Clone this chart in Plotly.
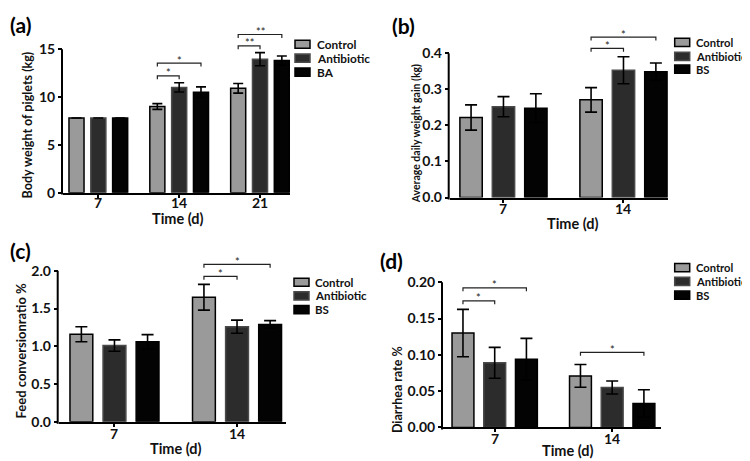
import plotly.graph_objects as go

W, H = 750, 461

# ---------------- data ----------------
series_a = ["Control", "Antibiotic", "BA"]
series_bcd = ["Control", "Antibiotic", "BS"]
days_a = ["7", "14", "21"]
days_bcd = ["7", "14"]

# (a) body weight of piglets (kg)
bw_control = [7.8, 9.0, 10.9]
bw_control_err = [0.0, 0.3, 0.5]
bw_antibiotic = [7.8, 11.0, 13.95]
bw_antibiotic_err = [0.0, 0.48, 0.68]
bw_ba = [7.8, 10.5, 13.8]
bw_ba_err = [0.0, 0.55, 0.48]

# (b) average daily weight gain (kg)
adg_control = [0.222, 0.271]
adg_control_err = [0.035, 0.034]
adg_antibiotic = [0.252, 0.353]
adg_antibiotic_err = [0.028, 0.0375]
adg_bs = [0.248, 0.349]
adg_bs_err = [0.04, 0.024]

# (c) feed conversion ratio %
fcr_control = [1.16, 1.65]
fcr_control_err = [0.10, 0.17]
fcr_antibiotic = [1.01, 1.26]
fcr_antibiotic_err = [0.075, 0.087]
fcr_bs = [1.06, 1.29]
fcr_bs_err = [0.095, 0.05]

# (d) diarrhea rate %
dr_control = [0.130, 0.071]
dr_control_err = [0.0326, 0.0157]
dr_antibiotic = [0.089, 0.055]
dr_antibiotic_err = [0.0213, 0.009]
dr_bs = [0.094, 0.033]
dr_bs_err = [0.0287, 0.0189]

# significance: (group index, from series, to series, label, bracket level)
sig_a = [(1, 0, 1, "*", 12.2), (1, 0, 2, "*", 13.54), (2, 0, 1, "**", 15.34), (2, 0, 2, "**", 16.53)]
sig_b = [(1, 0, 1, "*", 0.414), (1, 0, 2, "*", 0.445)]
sig_c = [(1, 0, 1, "*", 1.926), (1, 0, 2, "*", 2.085)]
sig_d = [(0, 0, 1, "*", 0.1744), (0, 0, 2, "*", 0.1923), (1, 0, 2, "*", 0.1034)]

# ---------------- styles ----------------
FONT = "Lato"
fills = ["#9a9a9a", "#2c2c2c", "#030303"]
edges = ["#000000", "#4a4a4a", "#000000"]
BARGAP = 0.19
slot = (1 - BARGAP) / 3
offsets = [-slot, 0, slot]

panels = [
    dict(key="a", days=days_a, names=series_a,
         means=[bw_control, bw_antibiotic, bw_ba],
         errs=[bw_control_err, bw_antibiotic_err, bw_ba_err],
         sig=sig_a, xpx=(55, 282), zero=186.7, ppu=9.78, ymax=17.5,
         xr=(-0.437, 2.371), tickvals=[0, 5, 10, 15], fmt="d", cap=5, xlab_dy=10,
         ytitle="Body weight of piglets (kg)", ytitle_pos=(19, 118), ytitle_size=12.5,
         xtitle_pos=(170, 213), label="(a)", label_pos=(0, 0),
         leg_box_x=287, leg_ys=[35, 49.3, 63.5], leg_text_x=307, leg_size=11.8),
    dict(key="b", days=days_bcd, names=series_bcd,
         means=[adg_control, adg_antibiotic, adg_bs],
         errs=[adg_control_err, adg_antibiotic_err, adg_bs_err],
         sig=sig_b, xpx=(441.7, 660), zero=191.7, ppu=368.5, ymax=0.47,
         xr=(-0.448, 1.371), tickvals=[0, 0.1, 0.2, 0.3, 0.4], fmt=".1f", cap=6, xlab_dy=11,
         ytitle="Average daily weight gain (kg)", ytitle_pos=(408, 127), ytitle_size=10.5,
         xtitle_pos=(565, 218), label="(b)", label_pos=(382, 1),
         leg_box_x=666.7, leg_ys=[33, 47.5, 60.5], leg_text_x=686, leg_size=11.2),
    dict(key="c", days=days_bcd, names=series_bcd,
         means=[fcr_control, fcr_antibiotic, fcr_bs],
         errs=[fcr_control_err, fcr_antibiotic_err, fcr_bs_err],
         sig=sig_c, xpx=(50.7, 278.3), zero=421, ppu=77.2, ymax=2.2,
         xr=(-0.455, 1.402), tickvals=[0, 0.5, 1.0, 1.5, 2.0], fmt=".1f", cap=6, xlab_dy=12,
         ytitle="Feed conversionratio %", ytitle_pos=(13, 348), ytitle_size=13,
         xtitle_pos=(168, 448), label="(c)", label_pos=(0, 231),
         leg_box_x=286, leg_ys=[278.3, 292.3, 306.3], leg_text_x=305, leg_size=11.5),
    dict(key="d", days=days_bcd, names=series_bcd,
         means=[dr_control, dr_antibiotic, dr_bs],
         errs=[dr_control_err, dr_antibiotic_err, dr_bs_err],
         sig=sig_d, xpx=(435, 653.3), zero=426.7, ppu=742, ymax=0.21,
         xr=(-0.44, 1.418), tickvals=[0, 0.05, 0.10, 0.15, 0.20], fmt=".2f", cap=6, xlab_dy=11,
         ytitle="Diarrhea rate %", ytitle_pos=(389, 388.5), ytitle_size=12.5,
         xtitle_pos=(560, 450), label="(d)", label_pos=(370, 241),
         leg_box_x=666.7, leg_ys=[263.3, 277.5, 291.5], leg_text_x=685.5, leg_size=11.2),
]

fig = go.Figure()
shapes = []
annotations = []
layout_axes = {}

for i, p in enumerate(panels):
    n = i + 1
    xa = "x" if n == 1 else f"x{n}"
    ya = "y" if n == 1 else f"y{n}"
    top_px = p["zero"] - p["ymax"] * p["ppu"]
    xdom = [p["xpx"][0] / W, p["xpx"][1] / W]
    ydom = [1 - p["zero"] / H, 1 - top_px / H]
    xpos = list(range(len(p["days"])))

    for s in range(3):
        fig.add_trace(go.Bar(
            x=xpos, y=p["means"][s], name=p["names"][s], showlegend=False,
            xaxis=xa, yaxis=ya,
            marker=dict(color=fills[s], line=dict(color=edges[s], width=1.5)),
            error_y=dict(type="data", array=p["errs"][s], visible=True,
                         color="#000000", thickness=1.6, width=p["cap"]),
        ))

    layout_axes["xaxis" if n == 1 else f"xaxis{n}"] = dict(
        domain=xdom, anchor=ya, range=list(p["xr"]), tickvals=xpos, showticklabels=False,
        showline=True, linecolor="#000000", linewidth=2, ticks="outside", ticklen=3,
        tickwidth=1.5, tickcolor="#000000", showgrid=False, zeroline=False, fixedrange=True)
    layout_axes["yaxis" if n == 1 else f"yaxis{n}"] = dict(
        domain=ydom, anchor=xa, range=[0, p["ymax"]], tickvals=p["tickvals"],
        tickformat=p["fmt"], showline=False, ticks="outside", ticklen=4, tickwidth=1.5,
        tickcolor="#000000", showgrid=False, zeroline=False,
        tickfont=dict(family=FONT, size=14, color="#111111", weight="bold"), fixedrange=True)

    # y axis line, only up to the last tick (paper coordinates -> not clipped)
    y_last_px = p["zero"] - p["tickvals"][-1] * p["ppu"]
    shapes.append(dict(type="line", xref="paper", yref="paper",
                       x0=(p["xpx"][0] - 1) / W, x1=(p["xpx"][0] - 1) / W,
                       y0=1 - (p["zero"] + 2) / H, y1=1 - y_last_px / H,
                       line=dict(color="#000000", width=2)))

    # x tick labels
    for xv, lab in zip(xpos, p["days"]):
        annotations.append(dict(x=xv, y=1 - (p["zero"] + p["xlab_dy"]) / H, xref=xa, yref="paper",
                                text=f"<b>{lab}</b>", showarrow=False,
                                xanchor="center", yanchor="middle",
                                font=dict(family=FONT, size=14, color="#111111")))

    # significance brackets
    tick = 3.5 / p["ppu"]
    for g, a, b, lab, yl in p["sig"]:
        x0 = g + offsets[a]
        x1 = g + offsets[b]
        shapes.append(dict(type="path", xref=xa, yref=ya,
                           path=f"M {x0},{yl - tick} L {x0},{yl} L {x1},{yl} L {x1},{yl - tick}",
                           line=dict(color="#222222", width=1.2)))
        annotations.append(dict(x=(x0 + x1) / 2, y=yl, xref=xa, yref=ya, text=lab,
                                showarrow=False, yanchor="middle", yshift=3,
                                font=dict(family=FONT, size=11, color="#222222")))

    # axis titles
    tx, ty = p["ytitle_pos"]
    annotations.append(dict(x=tx / W, y=1 - ty / H, xref="paper", yref="paper",
                            text=f"<b>{p['ytitle']}</b>", textangle=-90, showarrow=False,
                            xanchor="center", yanchor="middle",
                            font=dict(family=FONT, size=p["ytitle_size"], color="#111111")))
    tx, ty = p["xtitle_pos"]
    annotations.append(dict(x=tx / W, y=1 - ty / H, xref="paper", yref="paper",
                            text="<b>Time (d)</b>", showarrow=False,
                            xanchor="center", yanchor="middle",
                            font=dict(family=FONT, size=14.5, color="#111111")))
    # panel label
    lx, ly = p["label_pos"]
    annotations.append(dict(x=lx / W, y=1 - ly / H, xref="paper", yref="paper",
                            text=f"<b>{p['label']}</b>", showarrow=False,
                            xanchor="left", yanchor="top",
                            font=dict(family=FONT, size=21, color="#000000")))
    # legend
    for s in range(3):
        cy = p["leg_ys"][s]
        bx = p["leg_box_x"]
        shapes.append(dict(type="rect", xref="paper", yref="paper",
                           x0=bx / W, x1=(bx + 15) / W,
                           y0=1 - (cy + 4.2) / H, y1=1 - (cy - 4.2) / H,
                           fillcolor=fills[s], line=dict(color=edges[s], width=1.5)))
        annotations.append(dict(x=p["leg_text_x"] / W, y=1 - cy / H, xref="paper", yref="paper",
                                text=f"<b>{p['names'][s]}</b>", showarrow=False,
                                xanchor="left", yanchor="middle",
                                font=dict(family=FONT, size=p["leg_size"], color="#111111")))

fig.update_layout(
    width=W, height=H, margin=dict(l=0, r=0, t=0, b=0),
    paper_bgcolor="white", plot_bgcolor="white",
    barmode="group", bargap=BARGAP, bargroupgap=0.31,
    shapes=shapes, annotations=annotations, showlegend=False,
    **layout_axes,
)

fig.write_html("out.html")
